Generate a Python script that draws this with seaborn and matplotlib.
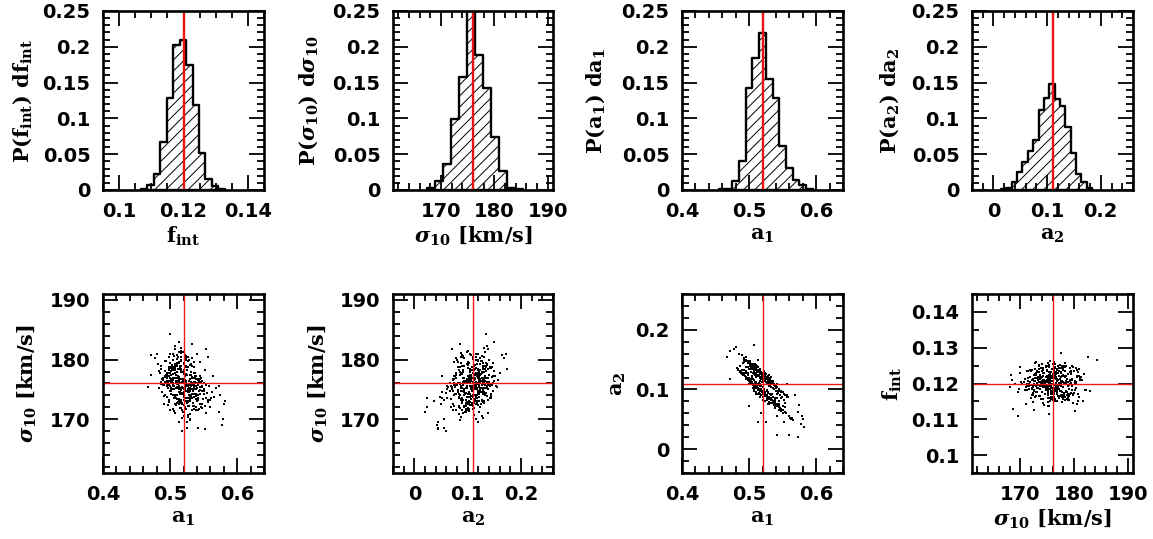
import matplotlib
matplotlib.use('Agg')
import matplotlib.pyplot as plt
import seaborn as sns
from matplotlib.ticker import MultipleLocator, FormatStrFormatter

sns.set_theme(context='notebook', style='ticks')
plt.rcParams['font.family'] = ['DejaVu Sans']
plt.rcParams['font.weight'] = 'bold'
plt.rcParams['mathtext.fontset'] = 'custom'
plt.rcParams['mathtext.rm'] = 'DejaVu Serif:bold'
plt.rcParams['mathtext.it'] = 'DejaVu Serif:italic:bold'
plt.rcParams['mathtext.bf'] = 'DejaVu Serif:bold'
plt.rcParams['hatch.linewidth'] = 0.7

# best fit values (red lines)
fintBest = 0.12
sigmaBest = 176
a1Best = 0.52
a2Best = 0.11

# histogram bins
fintEdges = [0.1068, 0.1088, 0.1108, 0.1128, 0.1148, 0.1168, 0.1188, 0.1208, 0.1228, 0.1248, 0.1268, 0.1288, 0.1308, 0.1328]
fintHeights = [0.001, 0.007, 0.022, 0.067, 0.129, 0.203, 0.209, 0.174, 0.119, 0.052, 0.015, 0.006, 0.001]
sigmaEdges = [167.3, 168.8, 170.3, 171.8, 173.3, 174.8, 176.3, 177.8, 179.3, 180.8, 182.3, 183.8, 185.3]
sigmaHeights = [0.003, 0.012, 0.036, 0.099, 0.158, 0.255, 0.189, 0.142, 0.074, 0.026, 0.003, 0.001]
a1Edges = [0.455, 0.465, 0.475, 0.485, 0.495, 0.505, 0.515, 0.525, 0.535, 0.545, 0.555, 0.565, 0.575, 0.585, 0.595]
a1Heights = [0.001, 0.002, 0.012, 0.041, 0.142, 0.185, 0.219, 0.155, 0.129, 0.062, 0.031, 0.014, 0.007, 0.001]
a2Edges = [0.014, 0.024, 0.034, 0.044, 0.054, 0.064, 0.074, 0.084, 0.094, 0.104, 0.114, 0.124, 0.134, 0.144, 0.154, 0.164, 0.174, 0.184]
a2Heights = [0.001, 0.003, 0.011, 0.025, 0.039, 0.054, 0.070, 0.112, 0.128, 0.148, 0.127, 0.117, 0.088, 0.052, 0.023, 0.011, 0.003]

# chain samples estimated by eye from the bottom row
a1Samples = [
    .512, .527, .503, .535, .518, .498, .542, .521, .509, .531,
    .507, .524, .515, .549, .492, .533, .519, .501, .528, .511,
    .538, .505, .523, .497, .516, .556, .529, .510, .486, .520,
    .514, .540, .502, .526, .495, .531, .508, .545, .517, .522,
    .499, .534, .513, .551, .525, .506, .490, .537, .519, .504,
    .516, .528, .500, .543, .511, .536, .494, .521, .507, .561,
    .524, .509, .532, .488, .518, .547, .503, .529, .513, .539,
    .496, .522, .515, .552, .505, .530, .484, .519, .541, .510,
    .526, .501, .535, .517, .493, .546, .512, .523, .508, .533,
    .520, .498, .558, .514, .527, .504, .537, .491, .516, .544,
    .509, .531, .521, .500, .548, .513, .525, .482, .518, .536,
    .506, .529, .495, .542, .511, .522, .502, .534, .554, .515,
    .487, .524, .510, .539, .517, .497, .530, .505, .545, .520,
    .512, .533, .499, .526, .566, .508, .519, .489, .538, .514,
    .503, .528, .516, .550, .494, .523, .509, .535, .501, .521,
    .513, .541, .507, .527, .485, .518, .532, .496, .547, .511,
    .524, .504, .536, .515, .560, .492, .520, .530, .506, .543,
    .510, .525, .498, .534, .517, .553, .502, .522, .488, .529,
    .514, .539, .508, .519, .500, .546, .526, .493, .531, .512,
    .521, .505, .537, .483, .516, .557, .523, .509, .533, .497,
    .518, .528, .503, .544, .511, .490, .524, .535, .507, .550,
    .515, .499, .530, .520, .563, .513, .540, .495, .527, .506,
    .522, .510, .534, .501, .517, .548, .486, .525, .512, .538,
    .504, .529, .519, .542, .496, .516, .532, .508, .555, .523,
    .514, .536, .500, .521, .491, .545, .511, .527, .505, .531,
    .513, .522, .506, .531, .517, .500, .538, .525, .510, .519,
    .527, .503, .516, .541, .509, .524, .495, .533, .512, .546,
    .520, .507, .529, .498, .515, .536, .523, .502, .544, .511,
    .518, .535, .504, .526, .492, .513, .530, .508, .552, .521,
    .510, .528, .499, .539, .516, .524, .506, .533, .490, .519,
    .514, .542, .503, .522, .509, .531, .517, .497, .527, .512,
    .525, .507, .536, .515, .548, .501, .520, .511, .494, .529,
    .518, .532, .505, .523, .513, .540, .498, .526, .509, .521,
    .511, .534, .500, .519, .545, .507, .528, .516, .491, .537,
    .522, .504, .530, .513, .550, .496, .517, .526, .508, .541,
    .515, .529, .502, .520, .535, .510, .493, .524, .506, .539,
    .518, .533, .512, .547, .499, .523, .508, .528, .516, .487,
    .526, .505, .537, .514, .521, .501, .531, .510, .543, .519,
    .513, .530, .497, .524, .509, .553, .517, .504, .535, .522,
    .511, .527, .500, .539, .516, .495, .532, .520, .507, .544,
    # outer points
    .4996, .513, .533, .553, .471, .480, .467, .5175, .5245, .541, .552, .578,
    .579, .580, .574, .573, .564, .556, .478, .472, .500, .514, .542, .560, .573, .582, .568, .507,
]
a2Samples = [
    .132, .082, .136, .113, .100, .126, .110, .092, .124, .110,
    .104, .122, .111, .088, .125, .121, .113, .144, .075, .110,
    .071, .139, .128, .118, .093, .090, .084, .141, .131, .097,
    .133, .103, .110, .087, .154, .118, .099, .066, .130, .094,
    .116, .112, .137, .061, .119, .103, .157, .078, .128, .143,
    .098, .118, .147, .097, .104, .077, .123, .126, .138, .052,
    .091, .108, .114, .128, .129, .067, .113, .117, .100, .106,
    .149, .090, .132, .093, .112, .085, .134, .095, .074, .135,
    .121, .117, .081, .097, .152, .098, .103, .124, .109, .083,
    .126, .119, .088, .102, .089, .140, .109, .127, .131, .072,
    .137, .086, .094, .116, .097, .131, .120, .136, .098, .110,
    .107, .116, .121, .073, .134, .123, .113, .082, .091, .100,
    .129, .092, .106, .107, .128, .148, .086, .111, .070, .125,
    .104, .112, .145, .119, .048, .136, .097, .126, .079, .101,
    .141, .087, .127, .095, .122, .093, .105, .110, .115, .122,
    .102, .104, .136, .088, .160, .126, .084, .120, .096, .107,
    .120, .113, .080, .129, .055, .124, .096, .113, .109, .073,
    .133, .090, .117, .109, .100, .062, .142, .122, .130, .115,
    .103, .076, .137, .124, .115, .069, .117, .150, .085, .131,
    .095, .110, .107, .133, .128, .087, .091, .106, .112, .119,
    .099, .116, .112, .100, .105, .126, .121, .081, .139, .066,
    .130, .146, .087, .123, .051, .103, .105, .121, .118, .108,
    .094, .134, .110, .114, .127, .068, .130, .119, .104, .077,
    .112, .114, .098, .075, .148, .101, .111, .108, .060, .121,
    .129, .079, .116, .123, .125, .100, .132, .090, .138, .085,
    .124, .101, .117, .092, .133, .120, .083, .112, .128, .098,
    .086, .129, .105, .097, .140, .115, .131, .078, .109, .091,
    .119, .098, .106, .138, .122, .088, .096, .135, .081, .113,
    .091, .103, .120, .111, .146, .108, .075, .133, .083, .116,
    .126, .094, .128, .072, .115, .089, .143, .104, .132, .122,
    .099, .092, .116, .125, .113, .107, .088, .137, .097, .140,
    .126, .130, .079, .094, .085, .112, .104, .121, .127, .109,
    .118, .082, .141, .090, .107, .098, .124, .112, .103, .128,
    .137, .093, .109, .128, .076, .116, .122, .087, .144, .100,
    .097, .134, .119, .101, .072, .138, .120, .084, .110, .086,
    .125, .079, .139, .104, .115, .092, .133, .116, .127, .069,
    .106, .090, .122, .064, .126, .118, .100, .095, .135, .139,
    .113, .117, .074, .130, .088, .147, .105, .096, .094, .121,
    .093, .124, .128, .080, .142, .078, .109, .123, .102, .131,
    .109, .099, .134, .086, .121, .118, .114, .083, .126, .075,
    # outer points
    .135, .150, .085, .070, .164, .172, .155, .060, .045, .055, .045, .042,
    .055, .050, .074, .062, .052, .110, .168, .118, .073, .045, .024, .024, .020, .037, .090, .174,
]
sigmaSamples = [
    177.2, 174.5, 179.1, 175.8, 172.6, 176.4, 174.1, 178.3, 175.3, 173.7,
    178.2, 176.0, 171.9, 173.4, 179.8, 177.1, 175.2, 174.3, 172.3, 180.1,
    175.0, 176.9, 178.8, 177.7, 174.9, 172.9, 170.9, 175.9, 178.9, 176.3,
    181.2, 173.1, 176.2, 174.7, 175.5, 179.2, 173.8, 176.1, 177.9, 172.0,
    180.4, 172.8, 175.6, 175.1, 177.4, 171.4, 176.6, 177.8, 174.4, 178.6,
    176.7, 174.0, 179.4, 171.8, 178.0, 175.4, 177.5, 173.3, 181.8, 173.6,
    175.7, 172.4, 177.0, 176.8, 170.2, 174.8, 178.4, 175.2, 179.6, 173.9,
    176.5, 180.7, 174.2, 172.2, 177.6, 175.9, 178.1, 171.2, 176.0, 179.0,
    174.6, 175.3, 178.7, 173.2, 177.3, 176.3, 172.7, 180.3, 176.9, 174.3,
    170.6, 178.5, 175.6, 177.1, 173.5, 179.9, 175.0, 175.8, 182.0, 172.5,
    176.2, 177.9, 174.1, 181.0, 176.4, 173.0, 178.2, 179.3, 171.6, 175.5,
    175.1, 173.8, 177.7, 176.6, 179.5, 172.1, 176.8, 174.7, 171.0, 178.6,
    175.9, 180.6, 173.4, 177.2, 174.9, 176.0, 169.8, 178.3, 175.4, 177.6,
    172.9, 176.1, 175.7, 179.7, 173.7, 182.3, 174.4, 177.0, 171.5, 176.5,
    178.8, 175.2, 173.1, 174.2, 176.3, 180.2, 177.4, 172.3, 175.0, 178.0,
    174.5, 176.7, 179.2, 170.4, 177.8, 175.3, 173.6, 176.9, 172.6, 180.8,
    177.5, 174.0, 175.8, 178.4, 173.2, 176.2, 171.3, 179.1, 175.5, 174.8,
    176.4, 172.8, 177.3, 175.1, 181.5, 173.5, 178.6, 176.6, 174.6, 170.0,
    179.4, 175.6, 173.9, 176.8, 177.7, 172.0, 175.9, 178.1, 174.1, 180.5,
    176.0, 171.7, 177.1, 175.3, 179.0, 173.3, 174.7, 176.5, 178.9, 172.4,
    175.4, 180.0, 176.7, 174.3, 177.9, 175.7, 173.0, 179.6, 171.1, 176.1,
    172.7, 178.7, 175.2, 177.6, 174.5, 176.3, 180.9, 173.7, 175.0, 178.3,
    174.9, 176.9, 172.2, 177.4, 179.8, 175.6, 176.2, 169.6, 178.5, 174.2,
    176.6, 173.4, 181.3, 175.8, 177.2, 171.9, 175.1, 178.8, 174.4, 176.4,
    173.1, 177.0, 175.5, 179.3, 172.5, 176.8, 174.0, 180.4, 175.9, 177.5,
    175.1, 177.3, 173.6, 176.2, 178.4, 174.7, 172.1, 175.8, 179.5, 176.6,
    178.7, 176.4, 174.2, 171.6, 177.5, 173.1, 175.9, 180.2, 172.8, 176.9,
    174.4, 179.2, 175.2, 173.3, 176.0, 177.8, 171.8, 178.1, 174.9, 175.4,
    176.3, 173.8, 180.9, 175.6, 177.1, 172.5, 176.7, 174.1, 178.3, 175.0,
    177.9, 174.6, 172.9, 176.8, 175.3, 179.0, 173.5, 176.1, 175.7, 171.3,
    175.5, 173.2, 178.6, 176.5, 174.0, 177.4, 180.4, 175.2, 172.3, 176.2,
    175.9, 177.0, 174.3, 178.9, 171.9, 176.6, 173.7, 175.4, 179.7, 174.8,
    172.7, 176.1, 175.6, 177.6, 173.4, 175.2, 178.2, 170.8, 176.4, 174.5,
    179.3, 175.0, 176.9, 174.2, 177.2, 172.6, 175.7, 181.1, 173.9, 176.3,
    175.3, 178.8, 173.0, 176.7, 174.7, 175.8, 179.9, 172.2, 177.7, 176.0,
    174.6, 177.5, 175.1, 172.4, 176.2, 178.0, 174.0, 175.5, 180.6, 173.4,
    176.8, 171.5, 175.9, 175.4, 177.8, 173.6, 179.1, 176.5, 174.4, 178.5,
    173.1, 176.0, 177.3, 175.2, 179.4, 174.8, 175.6, 172.7, 176.4, 177.9,
    177.0, 174.9, 176.2, 180.0, 173.5, 175.7, 178.2, 175.0, 171.7, 176.6,
    175.3, 172.9, 178.7, 176.1, 174.3, 177.4, 175.8, 173.8, 176.9, 179.6,
    # outer points
    184.3, 183.0, 182.6, 181.7, 180.8, 181.0, 175.4, 168.1, 168.5, 168.6, 168.3, 169.0,
    170.0, 172.6, 174.0, 175.5, 177.2, 180.5, 180.2, 177.5, 171.5, 169.5, 173.5, 172.0, 171.2, 173.0, 175.2, 178.5,
]
fintSamples = [
    .1195, .1228, .1164, .1207, .1181, .1242, .1199, .1153, .1213, .1186,
    .1221, .1178, .1204, .1232, .1169, .1192, .1258, .1211, .1147, .1201,
    .1189, .1238, .1172, .1206, .1196, .1224, .1181, .1215, .1161, .1243,
    .1209, .1176, .1183, .1249, .1217, .1198, .1156, .1227, .1191, .1234,
    .1203, .1163, .1222, .1185, .1253, .1193, .1212, .1177, .1139, .1208,
    .1197, .1235, .1174, .1219, .1158, .1202, .1244, .1187, .1226, .1166,
    .1214, .1194, .1229, .1171, .1205, .1182, .1247, .1160, .1210, .1199,
    .1224, .1150, .1190, .1239, .1179, .1216, .1168, .1200, .1255, .1184,
    .1207, .1231, .1175, .1196, .1220, .1162, .1241, .1188, .1213, .1145,
    .1203, .1178, .1225, .1192, .1251, .1170, .1209, .1233, .1183, .1198,
    .1218, .1157, .1201, .1240, .1186, .1223, .1173, .1206, .1194, .1262,
    .1180, .1216, .1149, .1199, .1230, .1167, .1211, .1246, .1190, .1204,
    .1176, .1221, .1195, .1159, .1237, .1208, .1184, .1219, .1136, .1202,
    .1227, .1171, .1193, .1248, .1212, .1181, .1200, .1165, .1234, .1197,
    .1155, .1215, .1188, .1228, .1174, .1206, .1252, .1191, .1220, .1162,
    .1210, .1185, .1243, .1198, .1168, .1224, .1203, .1152, .1179, .1232,
    .1194, .1217, .1172, .1256, .1201, .1187, .1236, .1164, .1213, .1205,
    .1182, .1226, .1196, .1148, .1209, .1241, .1175, .1219, .1189, .1230,
    .1202, .1160, .1214, .1183, .1250, .1197, .1222, .1170, .1207, .1237,
    .1178, .1199, .1229, .1192, .1154, .1218, .1186, .1245, .1204, .1167,
    .1211, .1235, .1181, .1200, .1224, .1173, .1259, .1193, .1142, .1208,
    .1215, .1169, .1190, .1233, .1203, .1177, .1220, .1196, .1249, .1161,
    .1206, .1228, .1184, .1212, .1146, .1198, .1238, .1175, .1221, .1191,
    .1201, .1166, .1217, .1188, .1243, .1205, .1179, .1226, .1194, .1156,
    .1231, .1195, .1213, .1171, .1208, .1183, .1254, .1200, .1163, .1219,
    .1204, .1186, .1219, .1172, .1235, .1197, .1209, .1158, .1226, .1191,
    .1213, .1178, .1244, .1195, .1167, .1201, .1222, .1183, .1257, .1206,
    .1189, .1231, .1175, .1210, .1198, .1163, .1239, .1202, .1184, .1217,
    .1224, .1193, .1161, .1207, .1248, .1180, .1214, .1176, .1199, .1236,
    .1205, .1170, .1228, .1188, .1252, .1196, .1212, .1155, .1220, .1183,
    .1201, .1234, .1179, .1216, .1192, .1165, .1243, .1208, .1174, .1227,
    .1187, .1211, .1237, .1159, .1203, .1229, .1194, .1246, .1182, .1218,
    .1197, .1173, .1221, .1206, .1250, .1185, .1168, .1213, .1232, .1190,
    .1209, .1181, .1240, .1156, .1199, .1225, .1177, .1215, .1202, .1261,
    .1214, .1192, .1166, .1233, .1204, .1178, .1247, .1188, .1222, .1160,
    .1200, .1229, .1171, .1212, .1183, .1238, .1195, .1152, .1219, .1205,
    .1176, .1207, .1241, .1196, .1164, .1223, .1186, .1255, .1210, .1198,
    .1216, .1181, .1201, .1169, .1235, .1193, .1227, .1208, .1151, .1244,
    .1190, .1218, .1237, .1174, .1203, .1162, .1249, .1211, .1185, .1226,
    .1231, .1194, .1158, .1206, .1220, .1179, .1199, .1242, .1187, .1213,
    # outer points
    .1265, .1180, .1275, .1150, .1170, .1240, .1115, .1190, .1210, .1130, .1225, .1200,
    .1245, .1125, .1205, .1185, .1235, .1142, .1122, .1285, .1215, .1110, .1232, .1160, .1195, .1175, .1138, .1250,
]

fintLabel = r'$\mathrm{f_{int}}$'
sigmaLabel = r'$\sigma_{\mathrm{10}}\ \mathrm{[km/s]}$'
a1Label = r'$\mathrm{a_1}$'
a2Label = r'$\mathrm{a_2}$'

fintLim = (0.095, 0.145)
sigmaLim = (161, 191)
a1Lim = (0.40, 0.64)
a2Lim = (-0.04, 0.26)

W, H = 1153, 539
fig = plt.figure(figsize=(W / 100, H / 100), dpi=100)


def makeAxes(left, top, right, bottom):
    return fig.add_axes([left / W, 1 - bottom / H, (right - left) / W, (bottom - top) / H])


def styleAxes(ax, xMajor, xMinor, yMajor, yMinor):
    ax.xaxis.set_major_locator(MultipleLocator(xMajor))
    ax.xaxis.set_minor_locator(MultipleLocator(xMinor))
    ax.yaxis.set_major_locator(MultipleLocator(yMajor))
    ax.yaxis.set_minor_locator(MultipleLocator(yMinor))
    ax.xaxis.set_major_formatter(FormatStrFormatter('%g'))
    ax.yaxis.set_major_formatter(FormatStrFormatter('%g'))
    ax.tick_params(which='major', direction='in', top=True, right=True, length=10.5, width=1.3,
                   labelsize=14, pad=9, color='black', labelcolor='black')
    ax.tick_params(which='minor', direction='in', top=True, right=True, length=5, width=1.3, color='black')
    for spine in ax.spines.values():
        spine.set_linewidth(1.9)
        spine.set_color('black')
        spine.set_visible(True)


def setLabels(ax, xLabel, yLabel, yLabelX):
    bbox = ax.get_position()
    axW = bbox.width * W
    axH = bbox.height * H
    ax.set_xlabel(xLabel, fontsize=15, color='black')
    ax.set_ylabel(yLabel, fontsize=15, color='black')
    ax.yaxis.set_label_coords((yLabelX - bbox.x0 * W) / axW, 0.5)
    ax.xaxis.set_label_coords(0.5, -35 / axH)


def histPanel(box, edges, heights, best, xLim, xLabel, yLabel, yLabelX, xMajor, xMinor):
    ax = makeAxes(*box)
    sns.histplot(x=edges[:-1], weights=heights, bins=edges, element='step', fill=True, stat='count',
                 color='black', linewidth=1.7, ax=ax, legend=False)
    for coll in ax.collections:
        coll.set_facecolor('none')
        coll.set_edgecolor('black')
        coll.set_hatch('///')
    ax.axvline(best, color='#ee1111', linewidth=1.7)
    ax.set_xlim(xLim)
    ax.set_ylim(0, 0.25)
    styleAxes(ax, xMajor, xMinor, 0.05, 0.01)
    setLabels(ax, xLabel, yLabel, yLabelX)


def scatterPanel(box, xs, ys, xBest, yBest, xLim, yLim, xLabel, yLabel, yLabelX, ticks):
    ax = makeAxes(*box)
    sns.scatterplot(x=xs, y=ys, s=2.4, marker='s', color='black', linewidth=0, ax=ax, legend=False)
    ax.axvline(xBest, color='#f01818', linewidth=1.0)
    ax.axhline(yBest, color='#f01818', linewidth=1.0)
    ax.set_xlim(xLim)
    ax.set_ylim(yLim)
    styleAxes(ax, *ticks)
    setLabels(ax, xLabel, yLabel, yLabelX)


histPanel((103, 11, 264, 190), fintEdges, fintHeights, fintBest, fintLim, fintLabel,
          r'$\mathrm{P(f_{int})\ df_{int}}$', 34, 0.02, 0.005)
histPanel((393, 11, 553, 190), sigmaEdges, sigmaHeights, sigmaBest, sigmaLim, sigmaLabel,
          r'$\mathrm{P(}\sigma_{\mathrm{10}}\mathrm{)\ d}\sigma_{\mathrm{10}}$', 320, 10, 2)
histPanel((682, 11, 843, 190), a1Edges, a1Heights, a1Best, a1Lim, a1Label,
          r'$\mathrm{P(a_1)\ da_1}$', 607, 0.1, 0.02)
histPanel((972, 11, 1133, 190), a2Edges, a2Heights, a2Best, a2Lim, a2Label,
          r'$\mathrm{P(a_2)\ da_2}$', 901, 0.1, 0.02)

scatterPanel((103, 294, 264, 473), a1Samples, sigmaSamples, a1Best, sigmaBest, a1Lim, sigmaLim,
             a1Label, sigmaLabel, 39, (0.1, 0.02, 10, 2))
scatterPanel((393, 294, 553, 473), a2Samples, sigmaSamples, a2Best, sigmaBest, a2Lim, sigmaLim,
             a2Label, sigmaLabel, 330, (0.1, 0.02, 10, 2))
scatterPanel((682, 294, 843, 473), a1Samples, a2Samples, a1Best, a2Best, a1Lim, a2Lim,
             a1Label, a2Label, 628, (0.1, 0.02, 0.1, 0.02))
scatterPanel((972, 294, 1133, 473), sigmaSamples, fintSamples, sigmaBest, fintBest, sigmaLim, fintLim,
             sigmaLabel, fintLabel, 904, (10, 2, 0.01, 0.005))

fig.savefig('out.png', dpi=100)
